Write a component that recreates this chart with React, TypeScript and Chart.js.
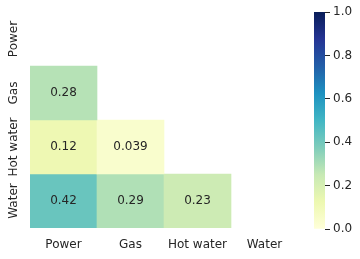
import React, { useEffect, useRef } from "react";
import { Chart, registerables } from "chart.js";

Chart.register(...registerables);

// ---- data ----
const categories = ["Power", "Gas", "Hot water", "Water"];
// lower-triangle correlation rows (row index = position in categories)
const rowPower: number[] = [];
const rowGas = [0.28];
const rowHotWater = [0.12, 0.039];
const rowWater = [0.42, 0.29, 0.23];
const colorbarTicks = [0, 0.2, 0.4, 0.6, 0.8, 1.0];
const colorMin = 0;
const colorMax = 1;

const rows = [rowPower, rowGas, rowHotWater, rowWater];

// matplotlib YlGnBu stops
const YLGNBU = [
  "#ffffd9", "#edf8b1", "#c7e9b4", "#7fcdbb", "#41b6c4",
  "#1d91c0", "#225ea8", "#253494", "#081d58",
];
const hexToRgb = (h: string) => [
  parseInt(h.slice(1, 3), 16),
  parseInt(h.slice(3, 5), 16),
  parseInt(h.slice(5, 7), 16),
];
function cmap(v: number): string {
  let t = (v - colorMin) / (colorMax - colorMin);
  t = Math.max(0, Math.min(1, t));
  const n = YLGNBU.length - 1;
  const i = Math.min(n - 1, Math.floor(t * n));
  const f = t * n - i;
  const a = hexToRgb(YLGNBU[i]);
  const b = hexToRgb(YLGNBU[i + 1]);
  const c = a.map((x, k) => Math.round(x + (b[k] - x) * f));
  return `rgb(${c[0]},${c[1]},${c[2]})`;
}

const FONT = "'DejaVu Sans', sans-serif";
const TEXT = "#262626";

export default function App() {
  const mainRef = useRef<HTMLCanvasElement | null>(null);
  const cbRef = useRef<HTMLCanvasElement | null>(null);

  useEffect(() => {
    const datasets = rows.map((vals, r) => ({
      label: categories[r],
      data: categories.map((_, c) => (c < vals.length ? [r, r + 1] : null)),
      backgroundColor: categories.map((_, c) =>
        c < vals.length ? cmap(vals[c]) : "rgba(0,0,0,0)"
      ),
      borderWidth: 0,
      grouped: false,
      barPercentage: 1,
      categoryPercentage: 1,
    }));

    const annotatePlugin = {
      id: "annotate",
      afterDatasetsDraw(chart: any) {
        const ctx = chart.ctx;
        ctx.save();
        ctx.font = `12px ${FONT}`;
        ctx.fillStyle = TEXT;
        ctx.textAlign = "center";
        ctx.textBaseline = "middle";
        rows.forEach((vals, r) => {
          const meta = chart.getDatasetMeta(r);
          vals.forEach((v, c) => {
            const el = meta.data[c] as any;
            if (!el) return;
            const cy = (el.y + el.base) / 2;
            ctx.fillText(v.toPrecision(2), el.x, cy);
          });
        });
        // y category labels (rotated)
        const ys = chart.scales.y;
        ctx.font = `12px ${FONT}`;
        categories.forEach((lab, r) => {
          const y = ys.getPixelForValue(r + 0.5);
          ctx.save();
          ctx.translate(14, y);
          ctx.rotate(-Math.PI / 2);
          ctx.fillText(lab, 0, 0);
          ctx.restore();
        });
        ctx.restore();
      },
    };

    const main = new Chart(mainRef.current!, {
      type: "bar",
      data: { labels: categories, datasets: datasets as any },
      options: {
        animation: false,
        responsive: false,
        maintainAspectRatio: false,
        layout: { padding: { left: 30, right: 2, top: 12, bottom: 0 } },
        plugins: { legend: { display: false }, tooltip: { enabled: false } },
        scales: {
          x: {
            type: "category",
            grid: { display: false, drawTicks: false },
            border: { display: false },
            ticks: { font: { family: FONT, size: 12 }, color: TEXT, padding: 10, maxRotation: 0 },
            afterFit: (s: any) => { s.height = 31; },
          },
          y: {
            type: "linear",
            min: 0,
            max: categories.length,
            reverse: true,
            display: false,
          },
        },
      } as any,
      plugins: [annotatePlugin],
    });

    const cb = new Chart(cbRef.current!, {
      type: "bar",
      data: {
        labels: ["cb"],
        datasets: [
          {
            data: [[colorMin, colorMax]] as any,
            borderWidth: 0,
            barPercentage: 1,
            categoryPercentage: 1,
            backgroundColor: (c: any) => {
              const { chart } = c;
              const area = chart.chartArea;
              if (!area) return YLGNBU[0];
              const g = chart.ctx.createLinearGradient(0, area.bottom, 0, area.top);
              YLGNBU.forEach((col, i) => g.addColorStop(i / (YLGNBU.length - 1), col));
              return g;
            },
          },
        ],
      },
      options: {
        animation: false,
        responsive: false,
        maintainAspectRatio: false,
        layout: { padding: { left: 14, right: 0, top: 12, bottom: 30 } },
        plugins: { legend: { display: false }, tooltip: { enabled: false } },
        scales: {
          x: { display: false },
          y: {
            position: "right",
            min: colorMin,
            max: colorMax,
            afterBuildTicks: (s: any) => {
              s.ticks = colorbarTicks.map((v) => ({ value: v }));
            },
            ticks: {
              font: { family: FONT, size: 12 },
              color: TEXT,
              padding: 3,
              callback: (v: any) => Number(v).toFixed(1),
            },
            grid: { drawOnChartArea: false, tickLength: 5, color: TEXT, lineWidth: 1 },
            border: { display: false },
            afterFit: (s: any) => { s.width = 35; },
          },
        },
      } as any,
    });

    return () => {
      main.destroy();
      cb.destroy();
    };
  }, []);

  return (
    <div style={{ position: "fixed", left: 0, top: 0, width: 360, height: 259, background: "#fff" }}>
      <canvas ref={mainRef} width={300} height={259} style={{ position: "absolute", left: 0, top: 0, width: 300, height: 259 }} />
      <canvas ref={cbRef} width={60} height={259} style={{ position: "absolute", left: 300, top: 0, width: 60, height: 259 }} />
    </div>
  );
}
